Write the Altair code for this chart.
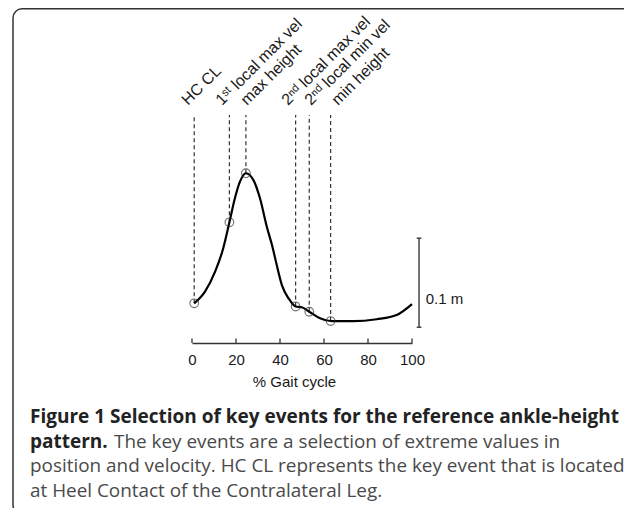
import altair as alt
import pandas as pd

# ---------------- data ----------------
curve_pct = [1.0, 5.9, 10.5, 14.2, 17.0, 19.5, 21.8, 24.5, 27.9, 30.9, 34.0, 36.5,
             38.6, 40.9, 43.9, 47.1, 49.9, 53.3, 58.2, 63.0, 73.3, 84.0, 93.0, 100.0]
curve_height = [0.0199, 0.0330, 0.0554, 0.0817, 0.1109, 0.1379, 0.1565, 0.1660, 0.1584,
                0.1379, 0.1060, 0.0840, 0.0620, 0.0400, 0.0255, 0.0163, 0.0154, 0.0104,
                0.0030, 0.0000, -0.0002, 0.0020, 0.0067, 0.0190]

event_names = ["HC CL", "1ˢᵗ local max vel", "max height",
               "2ⁿᵈ local max vel", "2ⁿᵈ local min vel", "min height"]
event_pct = [1.0, 17.0, 24.5, 47.1, 53.3, 63.0]
event_height = [0.0199, 0.1109, 0.1660, 0.0163, 0.0104, 0.0]
label_pct = [-1.8, 13.6, 25.0, 43.6, 54.1, 66.4]

tick_values = [0, 20, 40, 60, 80, 100]
x_title = "% Gait cycle"

scale_bar_pct = 103.2
scale_bar_low = -0.007
scale_bar_high = 0.093
scale_bar_label = "0.1 m"
scale_label_pct = 106.2
scale_label_height = 0.0247

caption_bold_1 = "Figure 1 Selection of key events for the reference ankle-height"
caption_bold_2 = "pattern."
caption_reg_2 = "The key events are a selection of extreme values in"
caption_reg_3 = "position and velocity. HC CL represents the key event that is located"
caption_reg_4 = "at Heel Contact of the Contralateral Leg."

# ---------------- tables ----------------
curve_df = pd.DataFrame({"pct": curve_pct, "height": curve_height})
events_df = pd.DataFrame({"event": event_names, "pct": event_pct,
                          "height": event_height, "label_pct": label_pct})
ticks_df = pd.DataFrame({"pct": tick_values})
bar_df = pd.DataFrame({"pct": [scale_bar_pct], "low": [scale_bar_low],
                       "high": [scale_bar_high]})
bar_caps_df = pd.DataFrame({"pct": [scale_bar_pct - 1.05] * 2,
                            "pct2": [scale_bar_pct + 1.05] * 2,
                            "h": [scale_bar_low, scale_bar_high]})
bar_label_df = pd.DataFrame({"pct": [scale_label_pct], "height": [scale_label_height],
                             "label": [scale_bar_label]})
one = pd.DataFrame({"a": [0]})

SANS = "Liberation Sans"
CAP = "Open Sans"
INK = "#1a1a1a"
GREY = "#444444"
FS = 15

x_scale = alt.Scale(domain=[0, 100], nice=False, zero=False)
y_scale = alt.Scale(domain=[-0.0247, 0.2494], nice=False, zero=False)
x_axis = alt.Axis(values=tick_values, format="d", ticks=False, tickSize=0, grid=False,
                  domain=True, domainColor="#333333", domainWidth=1.3,
                  labelFont=SANS, labelFontSize=FS, labelColor=INK, labelPadding=9,
                  labelFlush=False, labelOverlap=False,
                  title=x_title, titleFont=SANS, titleFontSize=FS,
                  titleFontWeight="normal", titleColor=INK, titleBaseline="top",
                  titleY=31, titleX=102, titleAlign="center")


def X(field):
    return alt.X(field, type="quantitative", scale=x_scale, axis=x_axis)


def Y(field):
    return alt.Y(field, type="quantitative", scale=y_scale, axis=None)


frame = alt.Chart(one).mark_rect(filled=False, stroke="#333333", strokeWidth=1.5,
                                  cornerRadius=9).encode(
    x=alt.value(-179), x2=alt.value(470), y=alt.value(-90.2), y2=alt.value(415))

dashes = alt.Chart(events_df).mark_rule(color="#333333", strokeWidth=1.2,
                                        strokeDash=[4, 3]).encode(
    x=X("pct"), y=Y("height"), y2=alt.value(16))

curve = alt.Chart(curve_df).mark_line(color="#000000", strokeWidth=2.2,
                                      interpolate="monotone").encode(
    x=X("pct"), y=Y("height"))

points = alt.Chart(events_df).mark_point(shape="circle", filled=False, size=75,
                                         color="#333333", strokeWidth=1.1).encode(
    x=X("pct"), y=Y("height"))

labels = alt.Chart(events_df).mark_text(angle=315, align="left", baseline="alphabetic",
                                        font=SANS, fontSize=16, color=INK).encode(
    x=X("label_pct"), y=alt.value(7), text="event:N")

up_ticks = alt.Chart(ticks_df).mark_rule(color="#333333", strokeWidth=1.3).encode(
    x=X("pct"), y=alt.value(244), y2=alt.value(239.5))

bar = alt.Chart(bar_df).mark_rule(color=GREY, strokeWidth=1.5).encode(
    x=X("pct"), y=Y("low"), y2="high:Q")

bar_caps = alt.Chart(bar_caps_df).mark_rule(color=GREY, strokeWidth=1.5).encode(
    x=X("pct"), x2="pct2:Q", y=Y("h"))

bar_label = alt.Chart(bar_label_df).mark_text(align="left", baseline="middle",
                                              font=SANS, fontSize=FS, color=INK).encode(
    x=X("pct"), y=Y("height"), text="label:N")


def cap_text(txt, x, y, bold):
    return alt.Chart(one).mark_text(
        text=txt, align="left", baseline="alphabetic", font=CAP,
        fontSize=19 if bold else 18.9,
        fontWeight="bold" if bold else "normal",
        color="#222222" if bold else "#4a4a4a").encode(
        x=alt.value(x), y=alt.value(y))


captions = [
    cap_text(caption_bold_1, -162, 324, True),
    cap_text(caption_bold_2, -162, 348.5, True),
    cap_text(caption_reg_2, -78, 348.5, False),
    cap_text(caption_reg_3, -162, 373, False),
    cap_text(caption_reg_4, -162, 397.5, False),
]

chart = alt.layer(frame, dashes, curve, points, labels, up_ticks, bar, bar_caps,
                  bar_label, *captions).properties(
    width=220, height=244,
    padding={"left": 184, "top": 91, "right": 212, "bottom": 165},
    autosize=alt.AutoSizeParams(type="none"),
    background="white",
).configure_view(strokeWidth=0)

chart.save("out.html", embed_options={"renderer": "svg", "actions": False})
